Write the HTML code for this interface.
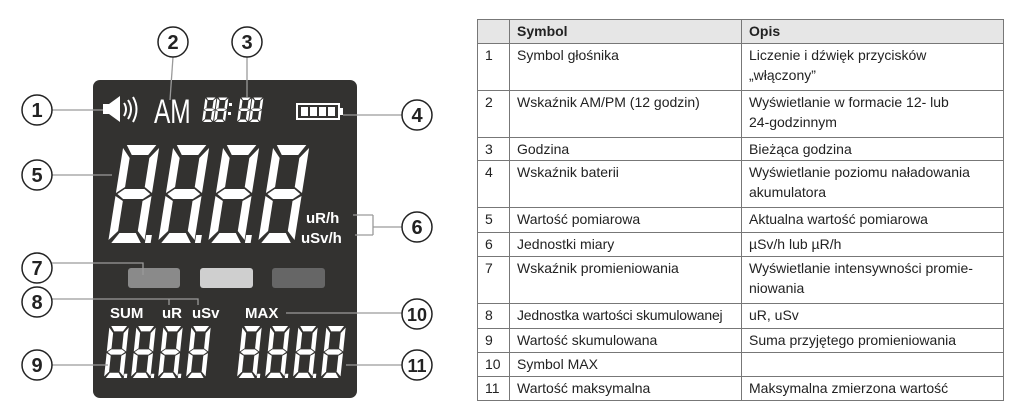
<!DOCTYPE html>
<html><head><meta charset="utf-8"><style>
html,body{margin:0;padding:0;background:#fff;width:1024px;height:420px;overflow:hidden}
svg{position:absolute;left:0;top:0}
table{position:absolute;left:477px;top:19px;border-collapse:collapse;font-family:"Liberation Sans",sans-serif;font-size:14px;color:#222;table-layout:fixed}
td{border:1.5px solid #777;vertical-align:top;padding:1px 6px 0 7px;line-height:20px;box-sizing:border-box;overflow:hidden}
tr.h td{background:#e6e6e6;font-weight:bold}
</style></head><body>
<svg width="1024" height="420" viewBox="0 0 1024 420">
<defs>
<g id="d">
<polygon points="4,0 40,0 32,10 12,10"/>
<polygon points="0,3 10,13 10,42 0,48"/>
<polygon points="44,3 44,48 34,42 34,13"/>
<polygon points="2,49 10,44 34,44 42,49 34,54 10,54"/>
<polygon points="0,51 10,56 10,86 0,95"/>
<polygon points="44,51 44,95 34,86 34,56"/>
<polygon points="12,88 32,88 40,98 4,98"/>
</g>
<g id="dp"><use href="#d"/><rect x="45" y="90" width="7" height="8"/></g>
</defs>
<rect x="93" y="80" width="264" height="318" rx="7" fill="#333230"/>
<g fill="#fff">
<g transform="translate(108,243) skewX(-9) scale(0.82,1) translate(0,-98)"><use href="#dp"/></g>
<g transform="translate(158,243) skewX(-9) scale(0.82,1) translate(0,-98)"><use href="#dp"/></g>
<g transform="translate(208,243) skewX(-9) scale(0.82,1) translate(0,-98)"><use href="#dp"/></g>
<g transform="translate(258,243) skewX(-9) scale(0.82,1) translate(0,-98)"><use href="#d"/></g>
<g transform="translate(104,378) skewX(-6) scale(0.44,0.53) translate(0,-98)"><use href="#dp"/></g>
<g transform="translate(131,378) skewX(-6) scale(0.44,0.53) translate(0,-98)"><use href="#dp"/></g>
<g transform="translate(158,378) skewX(-6) scale(0.44,0.53) translate(0,-98)"><use href="#dp"/></g>
<g transform="translate(186,378) skewX(-6) scale(0.44,0.53) translate(0,-98)"><use href="#d"/></g>
<g transform="translate(237,378) skewX(-6) scale(0.44,0.53) translate(0,-98)"><use href="#dp"/></g>
<g transform="translate(265,378) skewX(-6) scale(0.44,0.53) translate(0,-98)"><use href="#dp"/></g>
<g transform="translate(293,378) skewX(-6) scale(0.44,0.53) translate(0,-98)"><use href="#dp"/></g>
<g transform="translate(321,378) skewX(-6) scale(0.44,0.53) translate(0,-98)"><use href="#d"/></g>
<g transform="translate(202,122) skewX(-8) scale(0.25) translate(0,-98)"><use href="#d"/></g>
<g transform="translate(214,122) skewX(-8) scale(0.25) translate(0,-98)"><use href="#d"/></g>
<rect x="229" y="103" width="3" height="3"/><rect x="228" y="112" width="3" height="3"/>
<g transform="translate(237,122) skewX(-8) scale(0.25) translate(0,-98)"><use href="#d"/></g>
<g transform="translate(249,122) skewX(-8) scale(0.25) translate(0,-98)"><use href="#d"/></g>
<polygon points="103,104 109,104 120,96 120,122 109,114 103,114"/>
</g>
<g fill="none" stroke="#fff" stroke-width="2">
<path d="M124,103 Q128,109 124,116"/><path d="M128,100 Q134,109 128,119"/><path d="M133,97 Q140,109 133,122"/>
<rect x="297" y="104" width="42" height="15"/>
</g>
<g fill="#fff">
<rect x="339" y="108" width="4" height="7"/>
<rect x="301" y="107" width="7" height="9"/><rect x="310" y="107" width="7" height="9"/><rect x="319" y="107" width="7" height="9"/><rect x="328" y="107" width="7" height="9"/>
</g>
<g font-family="Liberation Sans,sans-serif" fill="#fff">
<text x="154" y="123" font-size="34" transform="translate(154,0) scale(0.72,1) translate(-154,0)">AM</text>
<text x="306" y="223" font-size="15" font-weight="bold">uR/h</text>
<text x="301" y="243" font-size="15" font-weight="bold">uSv/h</text>
<text x="110" y="318" font-size="15" font-weight="bold">SUM</text>
<text x="162" y="318" font-size="15" font-weight="bold">uR</text>
<text x="192" y="318" font-size="15" font-weight="bold">uSv</text>
<text x="245" y="318" font-size="15" font-weight="bold">MAX</text>
</g>
<rect x="128" y="268" width="52" height="20" rx="3" fill="#8a8a8a"/>
<rect x="200" y="268" width="53" height="20" rx="3" fill="#cfcfcf"/>
<rect x="272" y="268" width="53" height="20" rx="3" fill="#666"/>
<g stroke="#9a9a9a" stroke-width="1.3" fill="none">
<path d="M52,110 H103"/>
<path d="M173,57 L170,100"/>
<path d="M247,57 V98"/>
<path d="M402,115 H343"/>
<path d="M52,175 H112"/>
<path d="M402,227 H373 M373,215 V235 M353,215 H373 M355,235 H373"/>
<path d="M51,263 H143 V275"/>
<path d="M52,299 H198 V305 M169,299 V305"/>
<path d="M286,313 H402"/>
<path d="M52,365 H108"/>
<path d="M346,365 H402"/>
</g>
<g fill="#fff" stroke="#222" stroke-width="1.5">
<circle cx="37" cy="110" r="15"/><circle cx="173" cy="42" r="15"/><circle cx="247" cy="42" r="15"/>
<circle cx="417" cy="115" r="15"/><circle cx="37" cy="175" r="15"/><circle cx="417" cy="227" r="15"/>
<circle cx="37" cy="268" r="15"/><circle cx="37" cy="302" r="15"/><circle cx="417" cy="314" r="15"/>
<circle cx="37" cy="365" r="15"/><circle cx="417" cy="365" r="15"/>
</g>
<g font-family="Liberation Sans,sans-serif" font-weight="bold" font-size="20" fill="#222" text-anchor="middle">
<text x="37" y="117">1</text><text x="173" y="49">2</text><text x="247" y="49">3</text>
<text x="417" y="122">4</text><text x="37" y="182">5</text><text x="417" y="234">6</text>
<text x="37" y="275">7</text><text x="37" y="309">8</text><text x="417" y="321" font-size="18">10</text>
<text x="37" y="372">9</text><text x="417" y="372" font-size="18">11</text>
</g>
</svg>
<table>
<colgroup><col style="width:32px"><col style="width:232px"><col style="width:262px"></colgroup>
<tr class="h" style="height:24px"><td></td><td>Symbol</td><td>Opis</td></tr>
<tr style="height:47px"><td>1</td><td>Symbol głośnika</td><td>Liczenie i dźwięk przycisków<br>„włączony”</td></tr>
<tr style="height:47px"><td>2</td><td>Wskaźnik AM/PM (12 godzin)</td><td>Wyświetlanie w formacie 12- lub<br>24-godzinnym</td></tr>
<tr style="height:23px"><td>3</td><td>Godzina</td><td>Bieżąca godzina</td></tr>
<tr style="height:47px"><td>4</td><td>Wskaźnik baterii</td><td>Wyświetlanie poziomu naładowania<br>akumulatora</td></tr>
<tr style="height:25px"><td>5</td><td>Wartość pomiarowa</td><td>Aktualna wartość pomiarowa</td></tr>
<tr style="height:24px"><td>6</td><td>Jednostki miary</td><td>µSv/h lub µR/h</td></tr>
<tr style="height:47px"><td>7</td><td>Wskaźnik promieniowania</td><td>Wyświetlanie intensywności promie-<br>niowania</td></tr>
<tr style="height:25px"><td>8</td><td style="letter-spacing:-0.2px">Jednostka wartości skumulowanej</td><td>uR, uSv</td></tr>
<tr style="height:24px"><td>9</td><td>Wartość skumulowana</td><td>Suma przyjętego promieniowania</td></tr>
<tr style="height:24px"><td>10</td><td>Symbol MAX</td><td></td></tr>
<tr style="height:24px"><td>11</td><td>Wartość maksymalna</td><td>Maksymalna zmierzona wartość</td></tr>
</table>
</body></html>
